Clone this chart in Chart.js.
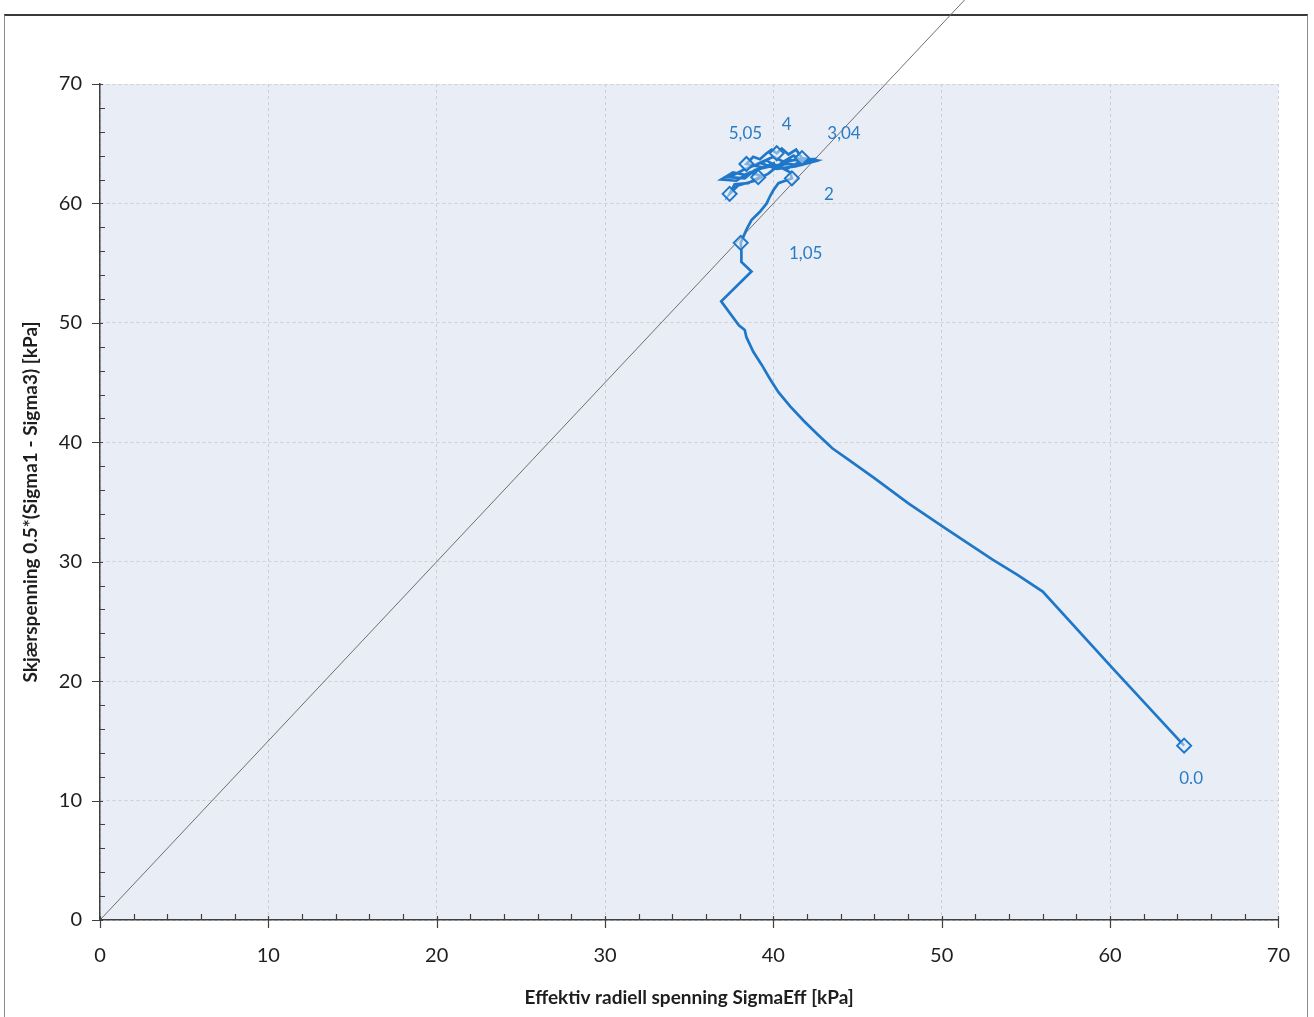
<!DOCTYPE html>
<html><head><meta charset="utf-8">
<script src="https://cdn.jsdelivr.net/npm/chart.js@4"></script>
<style>
html,body{margin:0;padding:0;background:#fff;overflow:hidden;}
#frame{position:absolute;left:4px;top:14px;width:1302px;height:1010px;border-top:2px solid #3a3a3a;border-left:1px solid #8a8a8a;border-right:1px solid #8a8a8a;}
#wrap{position:absolute;left:0;top:0;width:1314px;height:1017px;}
</style></head><body>
<div id="frame"></div>
<div id="wrap"><canvas id="c" width="1314" height="1017"></canvas></div>
<script>
// Stress path (SigmaEff, 0.5*(Sigma1-Sigma3)) in kPa
const pathX = [64.4,60.2,56.0,54.5,53.0,51.5,50.0,48.0,46.0,44.5,43.5,42.6,41.8,41.0,40.3,39.8,39.3,38.8,38.4,38.3,37.95,36.9,38.7,38.1,38.1,38.06,38.4,38.7,39.2,39.6,39.8,40.0,40.3,40.7,41.1,41.0,40.6,40.2,40.9,41.6,42.6,41.7,41.35,40.9,40.5,40.2,39.9,39.6,39.2,38.8,38.4,39.4,40.1,39.0,38.3,37.6,36.9,37.8,38.6,39.3,38.5,37.7,37.4,37.9,38.9,39.7,40.5,41.5,42.4,41.3,40.2,39.2,40.0,40.6,41.2,41.9,42.3,41.0,40.3,39.6,38.9,38.2,37.4,38.3,38.9,39.8,40.8,41.6,42.5];
const pathY = [14.6,21.0,27.5,28.9,30.2,31.6,33.0,34.9,37.0,38.5,39.5,40.7,41.8,43.0,44.2,45.3,46.5,47.6,48.8,49.4,49.8,51.8,54.3,55.1,56.0,56.7,57.8,58.6,59.3,60.0,60.6,61.1,61.7,61.9,62.1,62.6,62.9,63.2,63.3,63.2,63.6,63.8,64.5,64.1,64.6,64.2,64.5,64.2,63.7,63.9,63.3,63.0,63.4,62.8,62.4,62.6,62.0,61.9,62.6,62.3,61.7,61.6,60.8,61.5,61.9,62.5,63.4,63.7,63.5,63.1,62.9,63.4,63.9,63.5,64.0,63.4,63.7,63.6,63.0,63.6,63.2,62.8,62.2,62.1,62.8,63.1,62.9,63.5,63.6];
// Marked points and their labels
const markerX = [64.4, 38.06, 41.1, 41.7, 40.2, 38.4, 37.4, 39.1];
const markerY = [14.6, 56.7, 62.1, 63.8, 64.2, 63.3, 60.8, 62.2];
const markerLabels = ["0.0", "1,05", "2", "3,04", "4", "5,05", "", ""];
// Failure line (slope 1.5 through origin)
const failX = [0, 56];
const failY = [0, 84];
// Axes
const xMin = 0, xMax = 70, xStep = 10;
const yMin = 0, yMax = 70, yStep = 10;
const minorStep = 2;
const xTitle = "Effektiv radiell spenning SigmaEff [kPa]";
const yTitle = "Skjærspenning 0.5*(Sigma1 - Sigma3) [kPa]";

const BLUE = '#1f77c9';
const LABEL_BLUE = '#2a7cc6';
const labelOffsets = [[7,33],[65,11],[37,16],[42,-25],[10,-29],[-1,-31],[0,0],[0,0]];

const toPts = (xs, ys) => xs.map((x, i) => ({x: x, y: ys[i]}));

const extras = {
  id: 'extras',
  beforeDraw(chart) {
    const {ctx, chartArea: a} = chart;
    ctx.save();
    ctx.fillStyle = '#e9eef6';
    ctx.fillRect(a.left, a.top, a.right - a.left, a.bottom - a.top);
    ctx.restore();
  },
  afterDatasetsDraw(chart) {
    const {ctx} = chart;
    const xs = chart.scales.x, ys = chart.scales.y;
    ctx.save();
    ctx.font = '17px Lato';
    ctx.fillStyle = LABEL_BLUE;
    ctx.textAlign = 'center';
    ctx.textBaseline = 'middle';
    markerLabels.forEach((t, i) => {
      if (!t) return;
      const px = xs.getPixelForValue(markerX[i]) + labelOffsets[i][0];
      const py = ys.getPixelForValue(markerY[i]) + labelOffsets[i][1];
      ctx.fillText(t, px, py);
    });
    ctx.restore();
  },
  afterDraw(chart) {
    const {ctx, chartArea: a} = chart;
    const xs = chart.scales.x, ys = chart.scales.y;
    ctx.save();
    ctx.strokeStyle = '#404040';
    ctx.lineWidth = 1.2;
    ctx.beginPath();
    for (let v = xMin; v <= xMax + 1e-9; v += minorStep) {
      const px = Math.round(xs.getPixelForValue(v)) + 0.5;
      if (v % xStep === 0) { ctx.moveTo(px, a.bottom - 4); ctx.lineTo(px, a.bottom + 8); }
      else { ctx.moveTo(px, a.bottom); ctx.lineTo(px, a.bottom - 6); }
    }
    for (let v = yMin; v <= yMax + 1e-9; v += minorStep) {
      const py = Math.round(ys.getPixelForValue(v)) + 0.5;
      if (v % yStep === 0) { ctx.moveTo(a.left - 8, py); ctx.lineTo(a.left + 3, py); }
      else { ctx.moveTo(a.left, py); ctx.lineTo(a.left + 5, py); }
    }
    ctx.stroke();
    ctx.restore();
  }
};

new Chart(document.getElementById('c'), {
  type: 'scatter',
  data: {
    datasets: [
      { label: 'failure', data: toPts(failX, failY), showLine: true, borderColor: '#6e6e6e', borderWidth: 1, pointRadius: 0, clip: false, order: 3 },
      { label: 'path', data: toPts(pathX, pathY), showLine: true, borderColor: BLUE, borderWidth: 2.7, pointRadius: 0, tension: 0, order: 2 },
      { label: 'markers', data: toPts(markerX, markerY), showLine: false, pointStyle: 'rectRot', pointRadius: 7, borderColor: BLUE, borderWidth: 2, backgroundColor: 'rgba(232,237,246,0.5)', order: 1 }
    ]
  },
  options: {
    responsive: false,
    animation: false,
    devicePixelRatio: 1,
    layout: { padding: { left: 0, right: 34, top: 84, bottom: 0 } },
    plugins: { legend: { display: false }, tooltip: { enabled: false } },
    scales: {
      x: {
        type: 'linear', min: xMin, max: xMax,
        afterFit(s) { s.height = 97; },
        ticks: { stepSize: xStep, padding: 24, color: '#1e1e1e', font: { family: 'Lato', size: 20 } },
        grid: { color: '#cdced4', drawTicks: false, lineWidth: 1 },
        border: { display: true, color: '#404040', width: 1.5, dash: [3, 3] },
        title: { display: true, text: xTitle, color: '#1e1e1e', font: { family: 'Lato', size: 19, weight: 'bold' }, padding: { top: 0, bottom: 8 } }
      },
      y: {
        type: 'linear', min: yMin, max: yMax,
        afterFit(s) { s.width = 100; },
        ticks: { stepSize: yStep, padding: 18, color: '#1e1e1e', font: { family: 'Lato', size: 20 } },
        grid: { color: '#cdced4', drawTicks: false, lineWidth: 1 },
        border: { display: true, color: '#404040', width: 1.5, dash: [3, 3] },
        title: { display: true, text: yTitle, color: '#1e1e1e', font: { family: 'Lato', size: 19, weight: 'bold' }, padding: { top: 19, bottom: 0 } }
      }
    }
  },
  plugins: [extras]
});
</script>
</body></html>
